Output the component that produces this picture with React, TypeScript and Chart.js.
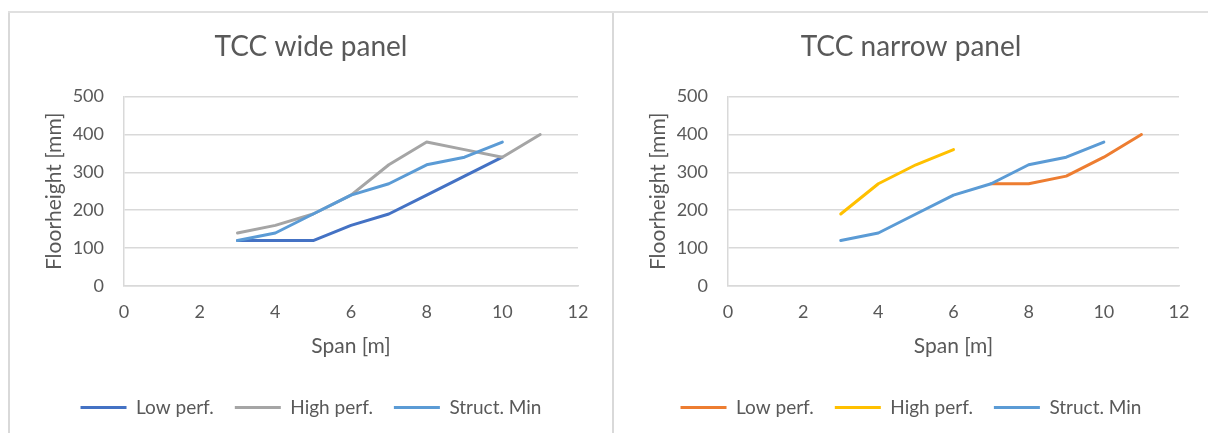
import React, { useEffect, useRef } from "react";
import { Chart, registerables } from "chart.js";

Chart.register(...registerables);

// ---- data ----
const seriesNames = ["Low perf.", "High perf.", "Struct. Min"];

const wideTitle = "TCC wide panel";
const wideLowX = [3, 4, 5, 6, 7, 8, 9, 10];
const wideLowY = [120, 120, 120, 160, 190, 240, 290, 340];
const wideHighX = [3, 4, 5, 6, 7, 8, 9, 10, 11];
const wideHighY = [140, 160, 190, 240, 320, 380, 360, 340, 400];
const wideMinX = [3, 4, 5, 6, 7, 8, 9, 10];
const wideMinY = [120, 140, 190, 240, 270, 320, 340, 380];

const narrowTitle = "TCC narrow panel";
const narrowLowX = [7, 8, 9, 10, 11];
const narrowLowY = [270, 270, 290, 340, 400];
const narrowHighX = [3, 4, 5, 6];
const narrowHighY = [190, 270, 320, 360];
const narrowMinX = [3, 4, 5, 6, 7, 8, 9, 10];
const narrowMinY = [120, 140, 190, 240, 270, 320, 340, 380];

const xTickMin = 0;
const xTickMax = 12;
const xTickStep = 2;
const yTickMin = 0;
const yTickMax = 500;
const yTickStep = 100;

const xAxisTitle = "Span [m]";
const yAxisTitle = "Floorheight [mm]";

const wideColors = ["#4472C4", "#A5A5A5", "#5B9BD5"];
const narrowColors = ["#ED7D31", "#FFC000", "#5B9BD5"];

const FONT = "Lato, 'Noto Sans', sans-serif";
const TEXT = "#595959";
const GRID = "#d9d9d9";

function pts(xs: number[], ys: number[]) {
  return xs.map((x, i) => ({ x, y: ys[i] }));
}

type ChartSpec = {
  title: string;
  series: { x: number[]; y: number[] }[];
  colors: string[];
  padRight: number;
};

function ChartBox({ spec, width }: { spec: ChartSpec; width: number }) {
  const ref = useRef<HTMLCanvasElement | null>(null);
  useEffect(() => {
    if (!ref.current) return;
    const datasets = spec.series.map((s, i) => ({
      label: seriesNames[i],
      data: pts(s.x, s.y),
      borderColor: spec.colors[i],
      backgroundColor: spec.colors[i],
      borderWidth: 3,
      borderCapStyle: "round" as const,
      borderJoinStyle: "round" as const,
      showLine: true,
      pointRadius: 0,
      pointHoverRadius: 0,
      order: 2 - i,
    }));
    const chart = new Chart(ref.current, {
      type: "scatter",
      data: { datasets },
      options: {
        animation: false,
        responsive: false,
        maintainAspectRatio: false,
        layout: { padding: { left: 0, right: 0, top: 0, bottom: 6 } },
        plugins: {
          tooltip: { enabled: false },
          title: {
            display: true,
            text: spec.title,
            color: TEXT,
            font: { family: FONT, size: 28, weight: "normal" },
            padding: { top: 17, bottom: 33 },
          },
          legend: {
            display: true,
            position: "bottom",
            labels: {
              color: TEXT,
              font: { family: FONT, size: 19 },
              boxWidth: 46,
              boxHeight: 3,
              padding: 21,
              sort: (a: any, b: any) => a.datasetIndex - b.datasetIndex,
              generateLabels: (c: any) =>
                c.data.datasets.map((d: any, i: number) => ({
                  text: d.label,
                  fillStyle: d.borderColor,
                  strokeStyle: d.borderColor,
                  lineWidth: 0,
                  hidden: false,
                  datasetIndex: i,
                  fontColor: TEXT,
                })),
            },
          },
        },
        scales: {
          x: {
            type: "linear",
            min: xTickMin,
            max: xTickMax,
            ticks: {
              stepSize: xTickStep,
              color: TEXT,
              font: { family: FONT, size: 18 },
              padding: 15,
              maxRotation: 0,
            },
            grid: { display: false, drawTicks: false },
            border: { display: true, color: GRID, width: 1.5 },
            title: {
              display: true,
              text: xAxisTitle,
              color: TEXT,
              font: { family: FONT, size: 21 },
              padding: { top: 10, bottom: 18 },
            },
            afterFit: (s: any) => {
              s.height = 91;
              s.paddingLeft = 0;
              s.paddingRight = spec.padRight;
            },
          },
          y: {
            type: "linear",
            min: yTickMin,
            max: yTickMax,
            ticks: {
              stepSize: yTickStep,
              color: TEXT,
              font: { family: FONT, size: 18 },
              padding: 20,
            },
            grid: { color: GRID, lineWidth: 1.5, drawTicks: false },
            border: { display: true, color: GRID, width: 1.5 },
            title: {
              display: true,
              text: yAxisTitle,
              color: TEXT,
              font: { family: FONT, size: 21 },
              padding: { top: 32, bottom: 0 },
            },
            afterFit: (s: any) => {
              s.width = 114;
              s.paddingTop = 0;
              s.paddingBottom = 0;
            },
          },
        },
      },
    });
    return () => chart.destroy();
  }, [spec]);
  return <canvas ref={ref} width={width} height={420} style={{ display: "block", width, height: 420 }} />;
}

const wideSpec: ChartSpec = {
  title: wideTitle,
  series: [
    { x: wideLowX, y: wideLowY },
    { x: wideHighX, y: wideHighY },
    { x: wideMinX, y: wideMinY },
  ],
  colors: wideColors,
  padRight: 34,
};

const narrowSpec: ChartSpec = {
  title: narrowTitle,
  series: [
    { x: narrowLowX, y: narrowLowY },
    { x: narrowHighX, y: narrowHighY },
    { x: narrowMinX, y: narrowMinY },
  ],
  colors: narrowColors,
  padRight: 29,
};

export default function App() {
  return (
    <div
      style={{
        position: "absolute",
        left: 8,
        top: 11,
        width: 1200,
        height: 422,
        borderTop: "2px solid #e0e0e0",
        background: "#fff",
        display: "flex",
        overflow: "hidden",
      }}
    >
      <div style={{ borderLeft: "2px solid #d9d9d9", width: 602, height: 420 }}>
        <ChartBox spec={wideSpec} width={602} />
      </div>
      <div style={{ borderLeft: "2px solid #d9d9d9", width: 594, height: 420 }}>
        <ChartBox spec={narrowSpec} width={594} />
      </div>
    </div>
  );
}
